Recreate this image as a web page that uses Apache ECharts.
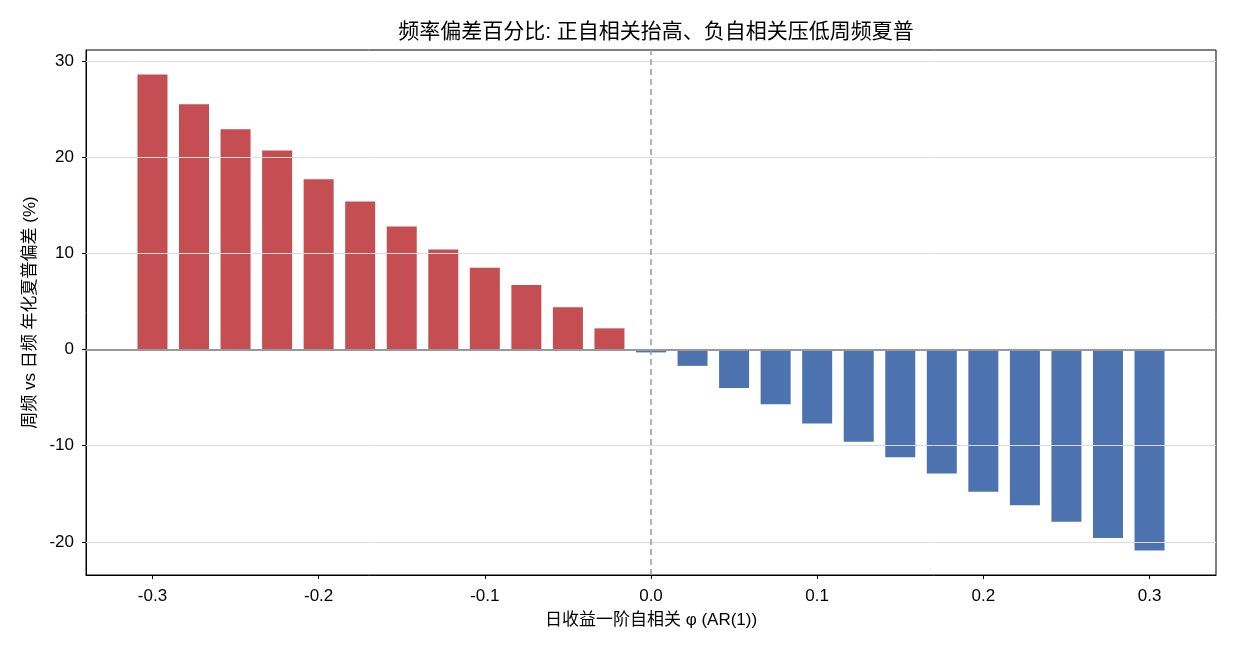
<!DOCTYPE html>
<html>
<head>
<meta charset="utf-8">
<script src="https://cdn.jsdelivr.net/npm/echarts@6/dist/echarts.min.js"></script>
<style>
  html, body { margin: 0; padding: 0; background: #fff; }
  #chart { width: 1235px; height: 650px; }
</style>
</head>
<body>
<div id="chart"></div>
<script>
// AR(1) 系数
var phi = [-0.3, -0.275, -0.25, -0.225, -0.2, -0.175, -0.15, -0.125, -0.1, -0.075, -0.05, -0.025,
  0, 0.025, 0.05, 0.075, 0.1, 0.125, 0.15, 0.175, 0.2, 0.225, 0.25, 0.275, 0.3];
// 周频 vs 日频 年化夏普偏差 (%)
var bias = [28.6, 25.5, 22.9, 20.7, 17.7, 15.4, 12.8, 10.4, 8.5, 6.7, 4.4, 2.2,
  -0.3, -1.7, -4.0, -5.7, -7.7, -9.6, -11.2, -12.9, -14.8, -16.2, -17.9, -19.6, -20.9];
var xTicks = [-0.3, -0.2, -0.1, 0, 0.1, 0.2, 0.3];
var yTicks = [-20, -10, 0, 10, 20, 30];

var chart = echarts.init(document.getElementById("chart"));
var font = "'Liberation Sans', 'Noto Sans CJK SC', sans-serif";

var barData = [];
for (var i = 0; i < phi.length; i++) {
  barData.push({
    value: [phi[i], bias[i]],
    itemStyle: { color: bias[i] >= 0 ? "#c44e52" : "#4c72b0" }
  });
}

// 网格线画在柱子上面
var lines = [];
yTicks.forEach(function (t) {
  if (t !== 0) lines.push({ yAxis: t, lineStyle: { color: "#dcdcdc", width: 1, type: "solid" } });
});
lines.push({ yAxis: 0, lineStyle: { color: "#999", width: 2, type: "solid" } });
lines.push({ xAxis: 0, lineStyle: { color: "#999", width: 1.5, type: [6, 4] } });

chart.setOption({
  animation: false,
  title: {
    text: "频率偏差百分比: 正自相关抬高、负自相关压低周频夏普",
    left: 651,
    textAlign: "center",
    top: 17,
    textStyle: { fontFamily: font, fontSize: 21, fontWeight: "normal", color: "#000" }
  },
  grid: {
    left: 86, right: 19, top: 50, bottom: 75,
    show: true, borderColor: "#000", borderWidth: 1, backgroundColor: "transparent"
  },
  xAxis: {
    type: "value",
    min: -0.34, max: 0.34,
    name: "日收益一阶自相关 φ (AR(1))",
    nameLocation: "middle",
    nameGap: 37,
    nameTextStyle: { fontFamily: font, fontSize: 17, color: "#000" },
    axisLine: { show: true, onZero: false, lineStyle: { color: "#000" } },
    axisTick: { show: true, length: 4, lineStyle: { color: "#000" }, customValues: xTicks },
    axisLabel: {
      customValues: xTicks, margin: 13,
      fontFamily: font, fontSize: 17, color: "#000",
      formatter: function (v) { return v.toFixed(1); }
    },
    splitLine: { show: false }
  },
  yAxis: {
    type: "value",
    min: -23.45, max: 31.15,
    name: "周频 vs 日频 年化夏普偏差 (%)",
    nameLocation: "middle",
    nameGap: 47,
    nameRotate: 90,
    nameTextStyle: { fontFamily: font, fontSize: 17, color: "#000" },
    axisLine: { show: true, onZero: false, lineStyle: { color: "#000" } },
    axisTick: { show: true, length: 4, lineStyle: { color: "#000" }, customValues: yTicks },
    axisLabel: {
      customValues: yTicks, margin: 12,
      fontFamily: font, fontSize: 17, color: "#000"
    },
    splitLine: { show: false }
  },
  series: [
    {
      type: "bar",
      data: barData,
      barWidth: 30,
      z: 2,
      markLine: {
        silent: true,
        symbol: "none",
        label: { show: false },
        z: 3,
        data: lines
      }
    }
  ]
});
</script>
</body>
</html>
